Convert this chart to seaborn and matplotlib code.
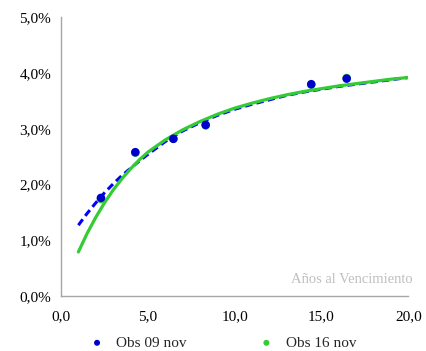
import matplotlib
matplotlib.use("Agg")
import matplotlib.pyplot as plt
import seaborn as sns
import pandas as pd
from matplotlib.ticker import FuncFormatter, MultipleLocator

# Observed yields (years to maturity, %)
obs_x = [2.30, 4.28, 6.47, 8.33, 14.41, 16.45]
obs_09 = [1.76, 2.58, 2.82, 3.07, 3.80, 3.90]
obs_16 = [1.74, 2.57, 2.82, 3.06, 3.79, 3.91]

# Fitted curves
curve_x = [1, 1.5, 2, 2.5, 3, 3.5, 4, 4.5, 5, 6, 7, 8, 9, 10, 11, 12, 13, 14, 15, 16, 17, 18, 19, 20]
curve_09 = [1.27, 1.48, 1.67, 1.85, 2.01, 2.16, 2.29, 2.42, 2.54, 2.77, 2.96, 3.11, 3.24, 3.35,
            3.44, 3.52, 3.60, 3.66, 3.71, 3.76, 3.80, 3.84, 3.88, 3.92]
curve_16 = [0.79, 1.12, 1.41, 1.67, 1.90, 2.10, 2.28, 2.44, 2.58, 2.80, 2.98, 3.13, 3.26, 3.37,
            3.46, 3.54, 3.61, 3.67, 3.72, 3.77, 3.81, 3.85, 3.89, 3.92]

label_09 = "Obs 09 nov"
label_16 = "Obs 16 nov"
x_title = "Años al Vencimiento"

sns.set_style("white")
plt.rcParams["font.family"] = ["Liberation Serif", "DejaVu Serif"]

fig = plt.figure(figsize=(4.26, 3.51), dpi=100)
ax = fig.add_axes([0.1432, 0.1567, 0.8153, 0.794])

blue_line = "#0000FF"
green_line = "#33CC33"
blue_pt = "#0000CC"
green_pt = "#33CC33"

df_c = pd.DataFrame({"x": curve_x, "c09": curve_09, "c16": curve_16})
df_o = pd.DataFrame({"x": obs_x, "o09": obs_09, "o16": obs_16})

sns.lineplot(data=df_c, x="x", y="c09", ax=ax, color=blue_line, lw=2.2,
             linestyle=(0, (2.4, 1.4)), legend=False, zorder=2)
sns.lineplot(data=df_c, x="x", y="c16", ax=ax, color=green_line, lw=2.3,
             legend=False, zorder=3)
sns.scatterplot(data=df_o, x="x", y="o16", ax=ax, color=green_pt, s=38,
                edgecolor="none", label=label_16, zorder=4)
sns.scatterplot(data=df_o, x="x", y="o09", ax=ax, color=blue_pt, s=38,
                edgecolor="none", label=label_09, zorder=5)

ax.set_xlim(0, 20)
ax.set_ylim(0, 5)
ax.xaxis.set_major_locator(MultipleLocator(5))
ax.yaxis.set_major_locator(MultipleLocator(1))
ax.xaxis.set_major_formatter(FuncFormatter(lambda v, p: f"{v:.1f}".replace(".", ",")))
ax.yaxis.set_major_formatter(FuncFormatter(lambda v, p: f"{v:.1f}%".replace(".", ",")))
ax.set_xlabel("")
ax.set_ylabel("")

for s in ["top", "right"]:
    ax.spines[s].set_visible(False)
for s in ["left", "bottom"]:
    ax.spines[s].set_color("#A6A6A6")
    ax.spines[s].set_linewidth(1.0)
ax.tick_params(axis="both", direction="out", length=4, width=1.0, color="#A6A6A6",
               labelsize=11, labelcolor="black")
ax.tick_params(axis="x", pad=6)
ax.tick_params(axis="y", pad=3)

ax.text(20.25, 0.29, x_title, ha="right", va="center", fontsize=10.5, color="#BFBFBF")

h, l = ax.get_legend_handles_labels()
order = [l.index(label_09), l.index(label_16)]
leg = ax.legend([h[i] for i in order], [l[i] for i in order], loc="upper center",
                bbox_to_anchor=(0.455, -0.122), ncol=2, frameon=False, fontsize=11,
                markerscale=0.7, handlelength=2.0, handletextpad=0.27, columnspacing=4.2,
                borderaxespad=0)

fig.savefig("out.png", dpi=100)
